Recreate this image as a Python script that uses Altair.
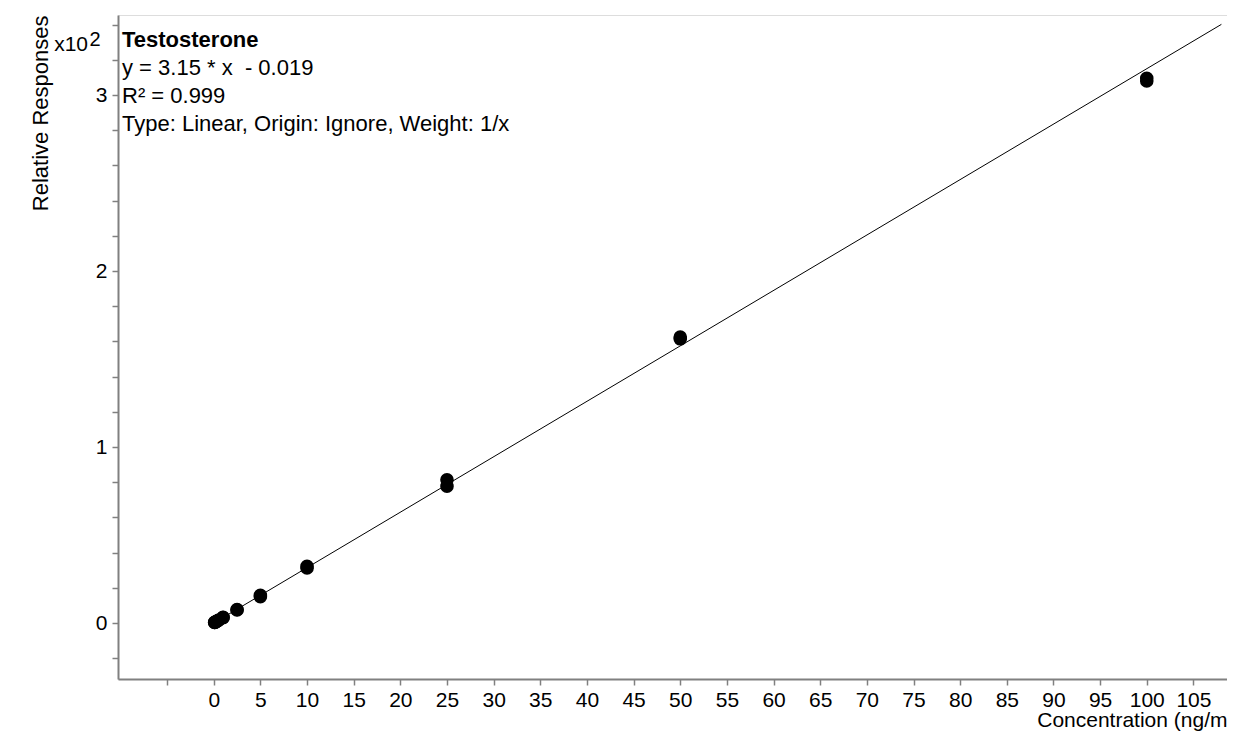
import altair as alt
import pandas as pd

# Calibration points (concentration ng/mL, relative response)
conc = [0.1, 0.1, 0.25, 0.25, 0.5, 0.5, 1, 1, 2.5, 2.5, 5, 5, 10, 10, 25, 25, 50, 50, 100, 100]
resp = [0.3, 0.35, 0.75, 0.8, 1.55, 1.6, 3.1, 3.2, 7.4, 7.7, 15.0, 15.8, 31.3, 32.3, 77.7, 81.4, 161.5, 162.5, 308.0, 309.5]

# Fit
slope = 3.15
intercept = -0.019
fit_range = [0, 108]

x_ticks = list(range(-5, 110, 5))
y_ticks = list(range(-20, 345, 20))

title_lines = ["y = 3.15 * x \u00a0- 0.019", "R\u00b2 = 0.999", "Type: Linear, Origin: Ignore, Weight: 1/x"]
compound = "Testosterone"

FONT = "Liberation Sans"
FS = 22
LFS = 21

pts = pd.DataFrame({"conc": conc, "resp": resp})
fit = pd.DataFrame({"conc": fit_range, "resp": [slope * v + intercept for v in fit_range]})

xscale = alt.Scale(domain=[-10.26, 108.6], nice=False, zero=False)
yscale = alt.Scale(domain=[-31.8, 345.5], nice=False, zero=False)

xaxis = alt.Axis(
    values=x_ticks, labelExpr="datum.value < 0 ? '' : datum.label", grid=False, labelOverlap=False,
    tickSize=6, tickColor="#808080", tickWidth=1.5, domainColor="#808080", domainWidth=2,
    labelFontSize=LFS, labelColor="black", labelPadding=4, labelFont=FONT,
    title="Concentration (ng/m", titleFont=FONT, titleFontSize=21, titleFontWeight="normal",
    titleColor="black", titleAnchor="end", titleAlign="right", titleX=1109, titleY=47,
    titleBaseline="alphabetic",
)
yaxis = alt.Axis(
    values=y_ticks, labelExpr="datum.value % 100 == 0 ? format(datum.value / 100, 'd') : ''",
    grid=False, labelOverlap=False, labelBound=False, tickSize=6, tickColor="#808080", tickWidth=1.5,
    domainColor="#808080", domainWidth=2,
    labelFontSize=LFS, labelColor="black", labelPadding=5, labelFont=FONT,
    title="Relative Responses", titleFont=FONT, titleFontSize=FS, titleFontWeight="normal",
    titleColor="black", titleAngle=270, titleAlign="right", titleBaseline="middle",
    titleX=-78, titleY=0,
)

line = alt.Chart(fit).mark_line(color="black", strokeWidth=1, clip=False).encode(
    x=alt.X("conc:Q", scale=xscale, axis=xaxis),
    y=alt.Y("resp:Q", scale=yscale, axis=yaxis),
)
points = alt.Chart(pts).mark_circle(color="black", opacity=1, size=185).encode(
    x=alt.X("conc:Q", scale=xscale, axis=xaxis),
    y=alt.Y("resp:Q", scale=yscale, axis=yaxis),
)

ann_texts = [compound] + title_lines
ann_y = [25, 53, 81, 109]
layers = [line, points]
for i, (t, yy) in enumerate(zip(ann_texts, ann_y)):
    layers.append(
        alt.Chart(pd.DataFrame({"t": [t]})).mark_text(
            align="left", baseline="middle", font=FONT, fontSize=FS,
            fontWeight="bold" if i == 0 else "normal", color="black",
        ).encode(text="t:N", x=alt.value(4), y=alt.value(yy))
    )

layers.append(
    alt.Chart(pd.DataFrame({"t": ["x10"]})).mark_text(
        align="right", baseline="middle", font=FONT, fontSize=21, color="black"
    ).encode(text="t:N", x=alt.value(-30), y=alt.value(30))
)
layers.append(
    alt.Chart(pd.DataFrame({"t": ["2"]})).mark_text(
        align="center", baseline="middle", font=FONT, fontSize=20, color="black"
    ).encode(text="t:N", x=alt.value(-23), y=alt.value(25))
)

chart = alt.layer(*layers).properties(
    width=1109, height=664,
    autosize=alt.AutoSizeParams(type="none"),
    padding={"left": 110, "top": 7, "right": 0, "bottom": 54},
).configure_view(stroke=None).configure(font=FONT)

chart.save("out.html", embed_options={"renderer": "svg", "actions": False})
